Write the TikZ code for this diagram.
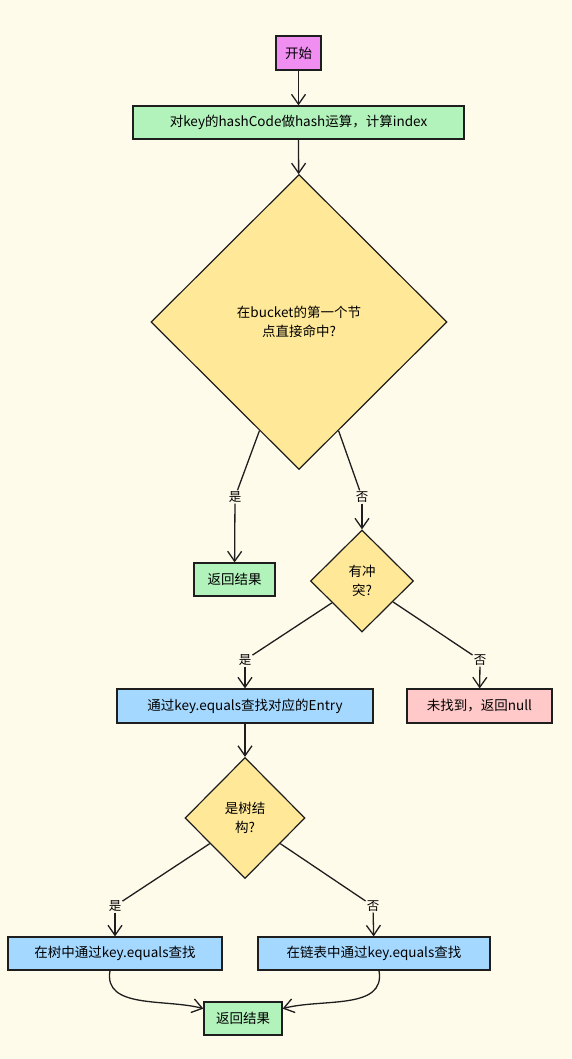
\documentclass[tikz,border=0pt]{standalone}
\usepackage{fontspec}
\setmainfont{Noto Sans CJK SC}
\usepackage{tikz}
\usetikzlibrary{shapes.geometric,positioning,arrows.meta}
\definecolor{pagebg}{HTML}{FFFBEB}
\definecolor{startbg}{HTML}{F08EF2}
\definecolor{greenbg}{HTML}{B2F2BB}
\definecolor{yellowbg}{HTML}{FFE999}
\definecolor{bluebg}{HTML}{A5D8FF}
\definecolor{redbg}{HTML}{FFC9C9}
\definecolor{inkc}{HTML}{1E1E1E}

\begin{document}
\begin{tikzpicture}[x=1pt, y=1pt,
  box/.style={draw=inkc, line width=1.2pt, minimum height=33pt, inner sep=0pt,
    font=\fontsize{13.5}{18}\selectfont},
  decision/.style={diamond, draw=inkc, line width=1.2pt, fill=yellowbg, inner sep=0pt,
    align=center, font=\fontsize{13.5}{19}\selectfont},
  lbl/.style={inner sep=1pt, font=\fontsize{12.5}{14}\selectfont},
  link/.style={draw=inkc, line width=1.3pt},
  flow/.style={link, -{Straight Barb[length=10pt, width=14pt]}}]
  % page
  \fill[pagebg] (0,0) rectangle (572,-1059);

  % Start and hash
  \node[box, fill=startbg, minimum width=45pt, minimum height=34pt] (start) at (298.5,-53) {开始};
  \node[box, fill=greenbg, minimum width=331pt] (hash) at (298.5,-122.5) {对key的hashCode做hash运算，计算index};

  % First decision
  \node[decision, minimum width=296pt, minimum height=295pt] (first) at (299,-322) {在bucket的第一个节\\点直接命中?};
  \node[box, fill=greenbg, minimum width=81pt] (hit) at (234.5,-579.5) {返回结果};
  \node[decision, minimum width=103pt, minimum height=102pt] (clash) at (362,-581) {有冲\\突?};

  % Search entry
  \node[box, fill=bluebg, minimum width=256pt, minimum height=34pt] (entry) at (245,-706) {通过key.equals查找对应的Entry};
  \node[box, fill=redbg, minimum width=145pt, minimum height=34pt] (miss) at (479.5,-706) {未找到，返回null};
  \node[decision, minimum width=120pt, minimum height=121pt] (tree) at (245,-818) {是树结\\构?};

  % Tree or list
  \node[box, fill=bluebg, minimum width=214pt] (intree) at (115,-953.5) {在树中通过key.equals查找};
  \node[box, fill=bluebg, minimum width=232pt] (inlist) at (374,-953.5) {在链表中通过key.equals查找};
  \node[box, fill=greenbg, minimum width=78pt] (done) at (243,-1018.5) {返回结果};

  % Branch labels
  \node[lbl] (yesA) at (235,-497) {是};
  \node[lbl] (noA) at (362,-497) {否};
  \node[lbl] (yesB) at (245,-660) {是};
  \node[lbl] (noB) at (480,-660) {否};
  \node[lbl] (yesC) at (115,-906) {是};
  \node[lbl] (noC) at (373,-906) {否};

  % Connectors
  \draw[flow] (start) -- (hash);
  \draw[flow] (hash) -- (first);
  \draw[link] (first.250) -- (yesA);
  \draw[flow] (yesA) -- (hit);
  \draw[link] (first.290) -- (noA);
  \draw[flow] (noA) -- (clash);
  \draw[link] (clash.216) -- (yesB);
  \draw[flow] (yesB) -- (entry);
  \draw[link] (clash.326) -- (noB);
  \draw[flow] (noB) -- (miss);
  \draw[flow] (entry) -- (tree);
  \draw[link] (tree.216) -- (yesC);
  \draw[flow] (yesC) -- (intree);
  \draw[link] (tree.324) -- (noC);
  \draw[flow] (noC) -- (inlist);
  \draw[flow] ([xshift=-5pt]intree.south) to[out=-100, in=165] (done.166);
  \draw[flow] ([xshift=5pt]inlist.south) to[out=-80, in=15] (done.14);
\end{tikzpicture}
\end{document}
